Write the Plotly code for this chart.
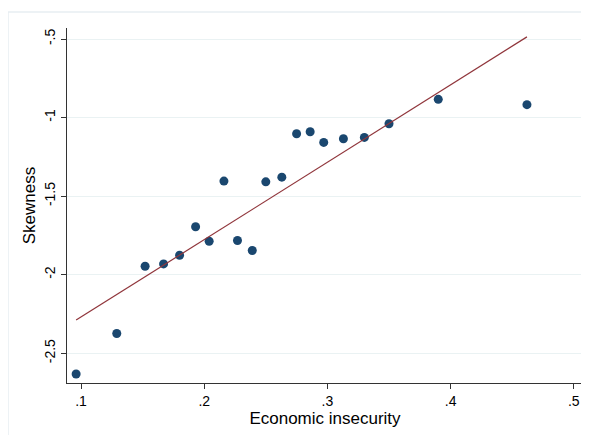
import numpy as np
import plotly.graph_objects as go

# values
insecurity = [0.096, 0.129, 0.152, 0.167, 0.180, 0.193, 0.204, 0.227, 0.239, 0.216,
              0.250, 0.263, 0.275, 0.286, 0.297, 0.313, 0.330, 0.350, 0.390, 0.462]
skewness = [-2.632, -2.374, -1.946, -1.931, -1.876, -1.695, -1.787, -1.782, -1.846, -1.404,
            -1.409, -1.379, -1.103, -1.090, -1.158, -1.135, -1.126, -1.039, -0.884, -0.918]

x_ticks = [0.1, 0.2, 0.3, 0.4, 0.5]
x_labels = ['.1', '.2', '.3', '.4', '.5']
y_ticks = [-2.5, -2, -1.5, -1, -0.5]
y_labels = ['-2.5', '-2', '-1.5', '-1', '-.5']

# linear fit, like Stata's lfit
slope, intercept = np.polyfit(insecurity, skewness, 1)
fit_x = np.array([min(insecurity), max(insecurity)])
fit_y = intercept + slope * fit_x

font = dict(family='Liberation Sans, Arial, sans-serif', size=14, color='#000000')

fig = go.Figure()
fig.add_trace(go.Scatter(x=insecurity, y=skewness, mode='markers',
                         marker=dict(color='#1a476f', size=9), showlegend=False))
fig.add_trace(go.Scatter(x=fit_x, y=fit_y, mode='lines',
                         line=dict(color='#90353b', width=1.2), showlegend=False))

# light outer frame, cut off at the right and bottom
fig.add_shape(type='rect', xref='paper', yref='paper',
              x0=-0.1143, x1=1.2, y0=-0.4, y1=1.045,
              line=dict(color='#e8eef2', width=1.5), layer='below')

# page body adds 8px margin, so the figure is a bit smaller than the window
fig.update_layout(
    width=581, height=427,
    margin=dict(l=59, r=6, t=20, b=52),
    paper_bgcolor='white', plot_bgcolor='white',
    font=font,
)
fig.update_xaxes(range=[0.0886, 0.5075], tickvals=x_ticks, ticktext=x_labels,
                 showgrid=False, zeroline=False, showline=True, linecolor='#333333',
                 linewidth=1.2, ticks='outside', ticklen=5, tickcolor='#333333',
                 title=dict(text='Economic insecurity', standoff=3))
fig.update_yaxes(range=[-2.689, -0.43], tickvals=y_ticks, ticktext=y_labels,
                 tickangle=-90, showgrid=True, gridcolor='#eaf2f3', gridwidth=1,
                 zeroline=False, showline=True, linecolor='#333333', linewidth=1.2,
                 ticks='outside', ticklen=5, tickcolor='#333333',
                 title=dict(text='Skewness', standoff=2))

fig.write_html("out.html")
